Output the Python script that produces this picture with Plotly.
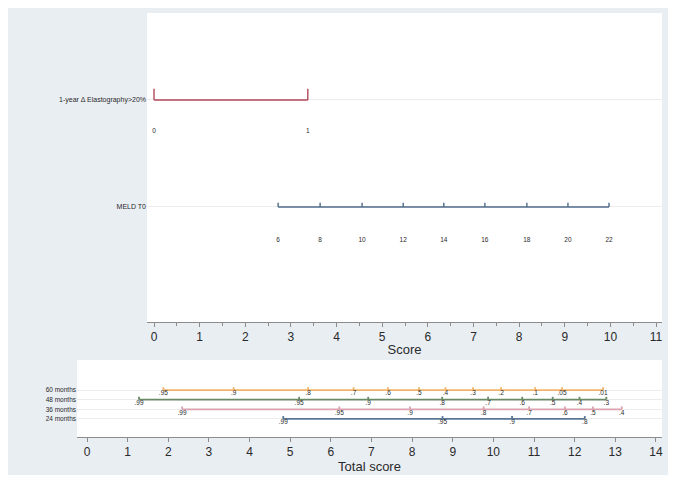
import plotly.graph_objects as go

# ---------------- data ----------------
# top panel (points scale "Score")
top_rows = ["MELD T0", "1-year Δ Elastography>20%"]
delta_labels = ["0", "1"]
delta_score = [0.0, 3.37]
meld_labels = ["6", "8", "10", "12", "14", "16", "18", "20", "22"]
meld_score = [2.72, 3.64, 4.56, 5.46, 6.35, 7.25, 8.17, 9.07, 9.97]
score_ticks = list(range(0, 12))

# bottom panel (survival probabilities on "Total score")
months = ["24 months", "36 months", "48 months", "60 months"]
p60_labels = [".95", ".9", ".8", ".7", ".6", ".5", ".4", ".3", ".2", ".1", ".05", ".01"]
p60_total = [1.88, 3.61, 5.44, 6.56, 7.41, 8.17, 8.82, 9.50, 10.19, 11.03, 11.69, 12.70]
p48_labels = [".99", ".95", ".9", ".8", ".7", ".6", ".5", ".4", ".3"]
p48_total = [1.28, 5.22, 6.92, 8.74, 9.87, 10.71, 11.46, 12.12, 12.78]
p36_labels = [".99", ".95", ".9", ".8", ".7", ".6", ".5", ".4"]
p36_total = [2.34, 6.21, 7.95, 9.76, 10.88, 11.76, 12.45, 13.16]
p24_labels = [".99", ".95", ".9", ".8"]
p24_total = [4.83, 8.75, 10.46, 12.25]
total_ticks = list(range(0, 15))

FONT = "Liberation Sans, Arial, Helvetica, sans-serif"
TXT = "#2a2a2a"
BG = "#e9eef3"

fig = go.Figure()


def add_row(xs, labels, row, color, xa, ya, tick_h, lab_off, lw, fs):
    # main line
    fig.add_trace(go.Scatter(x=[xs[0], xs[-1]], y=[row, row], mode="lines",
                             line=dict(color=color, width=lw), xaxis=xa, yaxis=ya,
                             hoverinfo="skip", showlegend=False))
    # tick marks
    tx, ty = [], []
    for v in xs:
        tx += [v, v, None]
        ty += [row, row + tick_h, None]
    fig.add_trace(go.Scatter(x=tx, y=ty, mode="lines",
                             line=dict(color=color, width=lw), xaxis=xa, yaxis=ya,
                             hoverinfo="skip", showlegend=False))
    # labels
    fig.add_trace(go.Scatter(x=xs, y=[row - lab_off] * len(xs), mode="text",
                             text=labels, textposition="middle center",
                             textfont=dict(size=fs, color=TXT, family=FONT),
                             xaxis=xa, yaxis=ya, hoverinfo="skip", showlegend=False))


# top panel rows
add_row(delta_score, delta_labels, 2, "#b24858", "x", "y", 0.105, 0.29, 1.4, 6.5)
add_row(meld_score, meld_labels, 1, "#4f6b88", "x", "y", 0.04, 0.31, 1.4, 6.5)

# bottom panel rows
add_row(p60_total, p60_labels, 4, "#f2b36a", "x2", "y2", 0.3, 0.38, 1.8, 6.5)
add_row(p48_total, p48_labels, 3, "#6a8a66", "x2", "y2", 0.3, 0.38, 1.8, 6.5)
add_row(p36_total, p36_labels, 2, "#dca2b0", "x2", "y2", 0.3, 0.38, 1.8, 6.5)
add_row(p24_total, p24_labels, 1, "#5a7797", "x2", "y2", 0.3, 0.38, 1.8, 6.5)

axis_common = dict(showline=True, linecolor="#8c8c8c", linewidth=1, ticks="outside",
                   ticklen=4, tickcolor="#8c8c8c", showgrid=False, zeroline=False,
                   tickfont=dict(size=12, color=TXT, family=FONT), fixedrange=True)

fig.update_layout(
    width=660, height=467,
    margin=dict(l=69, r=6, t=5, b=38),
    paper_bgcolor=BG, plot_bgcolor="white",
    font=dict(family=FONT, color=TXT),
    showlegend=False,
    xaxis=dict(domain=[0.1197, 1.0], range=[-0.153, 11.131], anchor="y",
               tickvals=score_ticks, ticktext=[str(t) for t in score_ticks],
               minor=dict(ticks="outside", dtick=0.5, ticklen=3, tickcolor="#8c8c8c"),
               title=dict(text="Score", font=dict(size=13, color=TXT, family=FONT), standoff=1),
               **axis_common),
    yaxis=dict(domain=[0.2712, 1.0], range=[-0.075, 2.813], anchor="x",
               tickvals=[1, 2], ticktext=top_rows, ticks="", showline=False,
               showgrid=True, gridcolor="#ededed", gridwidth=1, zeroline=False,
               tickfont=dict(size=7, color=TXT, family=FONT), fixedrange=True),
    xaxis2=dict(domain=[0.0, 1.0], range=[-0.246, 14.15], anchor="y2",
                tickvals=total_ticks, ticktext=[str(t) for t in total_ticks],
                title=dict(text="Total score", font=dict(size=13, color=TXT, family=FONT), standoff=0),
                **axis_common),
    yaxis2=dict(domain=[0.0, 0.1816], range=[-0.875, 7.125], anchor="x2",
                tickvals=[1, 2, 3, 4], ticktext=months, ticks="", showline=False,
                showgrid=True, gridcolor="#ededed", gridwidth=1, zeroline=False,
                tickfont=dict(size=6.5, color=TXT, family=FONT), fixedrange=True),
)

fig.write_html("out.html")
